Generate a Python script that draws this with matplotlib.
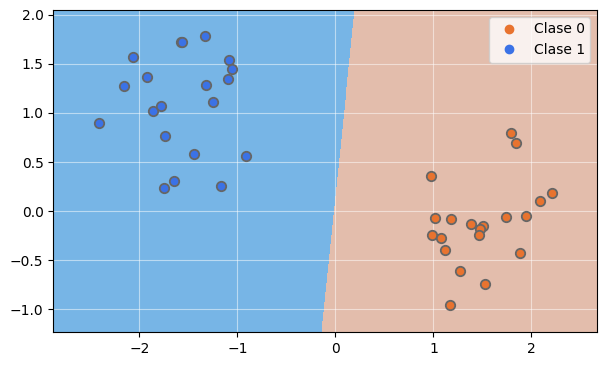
import numpy as np
import matplotlib.pyplot as plt
from matplotlib.colors import ListedColormap
from matplotlib.lines import Line2D

# puntos de la clase 0 (naranja)
x0 = [1.79, 1.84, 0.97, 2.21, 2.09, 1.02, 1.18, 1.74, 1.94, 1.38,
      1.51, 1.47, 1.46, 0.99, 1.08, 1.12, 1.88, 1.27, 1.53, 1.17]
y0 = [0.80, 0.69, 0.36, 0.19, 0.10, -0.07, -0.08, -0.06, -0.05, -0.13,
      -0.15, -0.18, -0.24, -0.24, -0.27, -0.40, -0.43, -0.61, -0.74, -0.96]

# puntos de la clase 1 (azul)
x1 = [-2.41, -2.16, -2.07, -1.92, -1.86, -1.78, -1.74, -1.75, -1.65, -1.58,
      -1.57, -1.44, -1.33, -1.32, -1.25, -1.17, -1.10, -1.09, -1.06, -0.91]
y1 = [0.90, 1.27, 1.57, 1.37, 1.02, 1.07, 0.77, 0.24, 0.31, 1.72,
      1.72, 0.58, 1.78, 1.28, 1.11, 0.26, 1.35, 1.54, 1.45, 0.56]

# frontera lineal del clasificador: w . x + b = 0
w = [2.9, -0.297]
b = 0.029

xlim = (-2.88, 2.67)
ylim = (-1.23, 2.05)

c_fondo = ListedColormap(["#77B5E6", "#E3BDAC"])
c0 = "#E8732F"
c1 = "#3B72E6"

fig, ax = plt.subplots(figsize=(6.05, 3.66), dpi=100)
fig.subplots_adjust(left=0.088, right=0.987, top=0.973, bottom=0.093)

paso = 0.005
xx, yy = np.meshgrid(np.arange(xlim[0], xlim[1] + paso, paso),
                     np.arange(ylim[0], ylim[1] + paso, paso))
zz = (w[0] * xx + w[1] * yy + b > 0).astype(int)
ax.contourf(xx, yy, zz, levels=[-0.5, 0.5, 1.5], cmap=c_fondo, zorder=0)

ax.scatter(x0, y0, s=46, c=c0, edgecolors="#666666", linewidths=1.3, zorder=3)
ax.scatter(x1, y1, s=46, c=c1, edgecolors="#666666", linewidths=1.3, zorder=3)

ax.set_xlim(xlim)
ax.set_ylim(ylim)
ax.grid(True, color="white", alpha=0.5, linewidth=0.8)

handles = [Line2D([], [], marker="o", linestyle="", color=c0, label="Clase 0"),
           Line2D([], [], marker="o", linestyle="", color=c1, label="Clase 1")]
ax.legend(handles=handles, loc="upper right")

plt.savefig("out.png")
